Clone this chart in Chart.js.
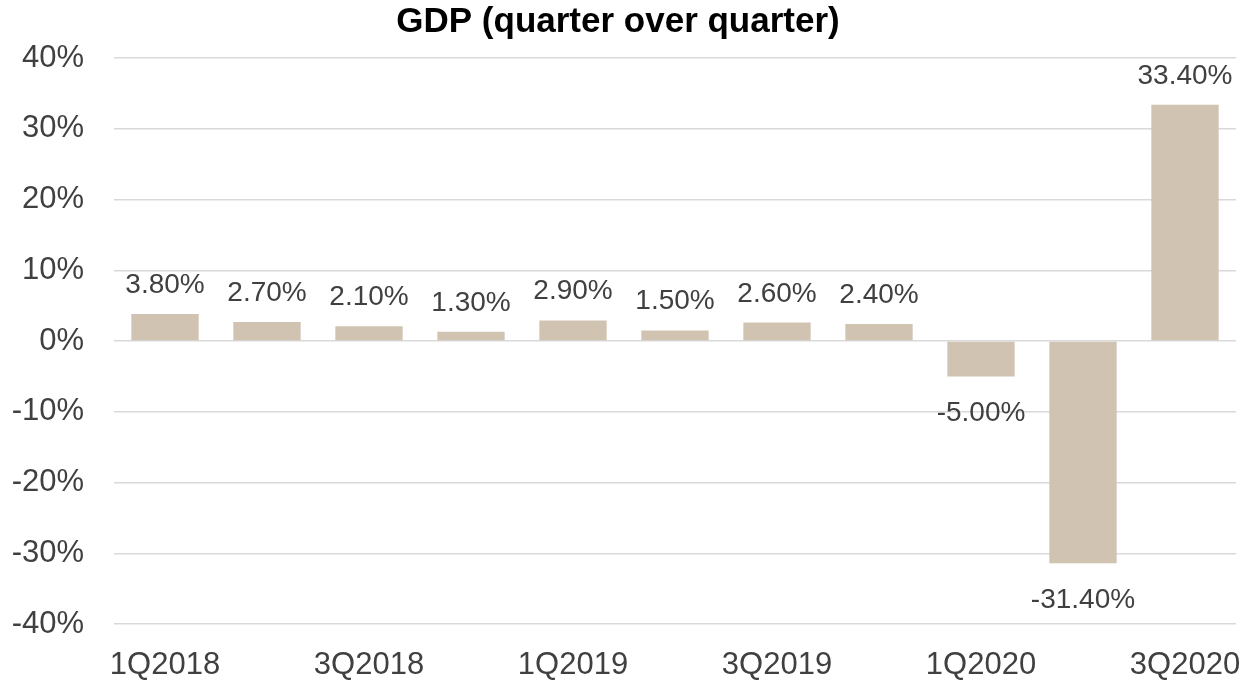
<!DOCTYPE html>
<html lang="en">
  <head>
    <meta charset="UTF-8" />
    <title>GDP (quarter over quarter)</title>
    <style>
      html, body { margin: 0; padding: 0; background: #fff; }
      .container { width: 1246px; height: 680px; position: relative; }
    </style>
  </head>
  <body>
    <div class="container">
      <canvas id="myChart"></canvas>
    </div>
    <script src="https://cdn.jsdelivr.net/npm/chart.js@4/dist/chart.umd.min.js"></script>
    <script>
      const quarters = ['1Q2018', '2Q2018', '3Q2018', '4Q2018', '1Q2019', '2Q2019', '3Q2019', '4Q2019', '1Q2020', '2Q2020', '3Q2020'];
      const gdpChange = [3.8, 2.7, 2.1, 1.3, 2.9, 1.5, 2.6, 2.4, -5.0, -31.4, 33.4];
      const yTicks = [-40, -30, -20, -10, 0, 10, 20, 30, 40];

      const FONT = "'Liberation Sans', Arial, sans-serif";
      const TEXT = '#404040';

      // values above positive bars, below negative ones
      const barLabels = {
        id: 'barLabels',
        afterDatasetsDraw(chart) {
          const ctx = chart.ctx;
          const meta = chart.getDatasetMeta(0);
          ctx.save();
          ctx.font = '28px ' + FONT;
          ctx.fillStyle = TEXT;
          ctx.textAlign = 'center';
          ctx.textBaseline = 'alphabetic';
          meta.data.forEach((bar, i) => {
            const v = gdpChange[i];
            const txt = v.toFixed(2) + '%';
            if (v >= 0) {
              ctx.fillText(txt, bar.x, bar.y - 21);
            } else {
              ctx.fillText(txt, bar.x, bar.y + 45);
            }
          });
          ctx.restore();
        },
      };

      const data = {
        labels: quarters,
        datasets: [
          {
            label: 'GDP',
            data: gdpChange,
            backgroundColor: '#D0C3B1',
            borderWidth: 0,
            barPercentage: 0.66,
            categoryPercentage: 1,
          },
        ],
      };

      const config = {
        type: 'bar',
        data: data,
        plugins: [barLabels],
        options: {
          animation: false,
          responsive: true,
          maintainAspectRatio: false,
          layout: { padding: { left: 0, right: 10, top: 0, bottom: 0 } },
          plugins: {
            legend: { display: false },
            tooltip: { enabled: false },
            title: {
              display: true,
              text: 'GDP (quarter over quarter)',
              color: '#000',
              font: { family: FONT, size: 35, weight: 'bold' },
              padding: { top: 1, bottom: 15 },
            },
          },
          scales: {
            x: {
              grid: { display: false },
              border: { display: false },
              ticks: {
                autoSkip: false,
                maxRotation: 0,
                color: TEXT,
                font: { family: FONT, size: 31 },
                padding: 15,
                callback: function (val, idx) {
                  return idx % 2 === 0 ? quarters[idx] : '';
                },
              },
              afterFit: (scale) => {
                scale.height = 56;
                scale.paddingLeft = 0;
                scale.paddingRight = 0;
              },
            },
            y: {
              min: -40,
              max: 40,
              afterBuildTicks: (scale) => {
                scale.ticks = yTicks.map((v) => ({ value: v }));
              },
              grid: { color: '#D9D9D9', lineWidth: 1.5, drawTicks: false },
              border: { display: false },
              ticks: {
                color: TEXT,
                font: { family: FONT, size: 31 },
                padding: 30,
                callback: (v) => v + '%',
              },
              afterFit: (scale) => { scale.width = 114; },
            },
          },
        },
      };

      const myChart = new Chart(document.getElementById('myChart'), config);
    </script>
  </body>
</html>
